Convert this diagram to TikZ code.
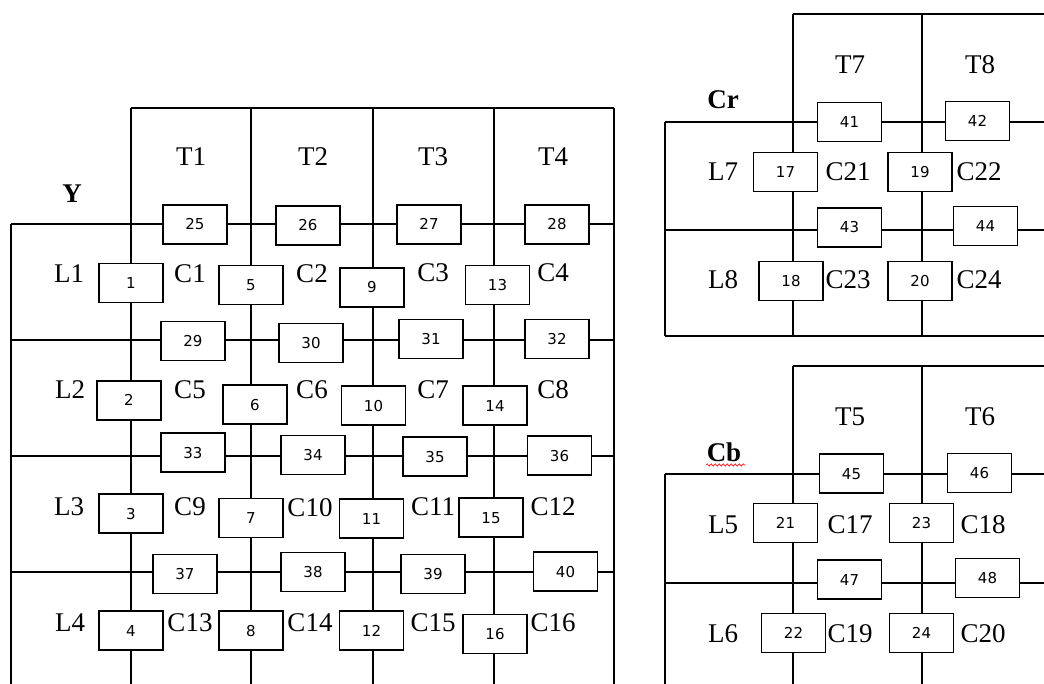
\documentclass[tikz,border=0pt]{standalone}
\usepackage{fontspec}
\setmainfont{Liberation Serif}
\newfontfamily\numfont{DejaVu Sans}
\usetikzlibrary{decorations.pathmorphing}
\begin{document}
\begin{tikzpicture}[x=1pt,y=-1pt,line width=1.2pt,
  bx/.style={draw,fill=white,minimum width=64pt,minimum height=39pt,inner sep=0pt,
    font=\numfont\fontsize{15}{15}\selectfont,text height=11pt,text depth=0pt},
  lab/.style={inner sep=0pt,font=\fontsize{27}{27}\selectfont,text height=18pt,text depth=0pt},
  blab/.style={lab,font=\bfseries\fontsize{27}{27}\selectfont}]
\useasboundingbox (0,0) rectangle (1044,684);
% ---------- Y grid ----------
\draw (131,108) -- (614,108);
\foreach \yy in {224,340,456,572} \draw (11,\yy) -- (614,\yy);
\draw (11,224) -- (11,684);
\foreach \xx in {131,251,373,494,614} \draw (\xx,108) -- (\xx,684);
% ---------- Cr grid ----------
\draw (793,14) -- (1044,14);
\foreach \yy in {122,230,336} \draw (665,\yy) -- (1044,\yy);
\draw (665,122) -- (665,336);
\foreach \xx in {793,922} \draw (\xx,14) -- (\xx,336);
% ---------- Cb grid ----------
\draw (793,366) -- (1044,366);
\foreach \yy in {474,583} \draw (665,\yy) -- (1044,\yy);
\draw (665,474) -- (665,684);
\foreach \xx in {793,922} \draw (\xx,366) -- (\xx,684);
% ---------- Y boxes ----------
\node[bx] (b25) at (195,224.5) {25};
\node[bx] (b26) at (308,225.5) {26};
\node[bx] (b27) at (429,224.5) {27};
\node[bx] (b28) at (557,224.5) {28};
\node[bx] (b1) at (131,283) {1};
\node[bx] (b5) at (251,285) {5};
\node[bx] (b9) at (372,287.5) {9};
\node[bx] (b13) at (497.5,285) {13};
\node[bx] (b29) at (193,341) {29};
\node[bx] (b30) at (311,343) {30};
\node[bx] (b31) at (431,339) {31};
\node[bx] (b32) at (557,339) {32};
\node[bx] (b2) at (129,400.5) {2};
\node[bx] (b6) at (255,404.5) {6};
\node[bx] (b10) at (373.5,405.5) {10};
\node[bx] (b14) at (495,405.5) {14};
\node[bx] (b33) at (193,452.5) {33};
\node[bx] (b34) at (313,455) {34};
\node[bx] (b35) at (435,456.5) {35};
\node[bx] (b36) at (559.5,455.5) {36};
\node[bx] (b3) at (131,513.5) {3};
\node[bx] (b7) at (251,518) {7};
\node[bx] (b11) at (371.5,518.5) {11};
\node[bx] (b15) at (491,517.5) {15};
\node[bx] (b37) at (185,574) {37};
\node[bx] (b38) at (313,572) {38};
\node[bx] (b39) at (433,574) {39};
\node[bx] (b40) at (565.5,571.5) {40};
\node[bx] (b4) at (131,630.5) {4};
\node[bx] (b8) at (251,630.5) {8};
\node[bx] (b12) at (371.5,630.5) {12};
\node[bx] (b16) at (495,634) {16};
% ---------- Cr boxes ----------
\node[bx] (b41) at (849.5,122) {41};
\node[bx] (b42) at (977.5,121) {42};
\node[bx] (b17) at (785.5,172) {17};
\node[bx] (b19) at (920,172) {19};
\node[bx] (b43) at (849.5,227.5) {43};
\node[bx] (b44) at (985.5,226) {44};
\node[bx] (b18) at (791,281) {18};
\node[bx] (b20) at (920,281) {20};
% ---------- Cb boxes ----------
\node[bx] (b45) at (851.5,473.5) {45};
\node[bx] (b46) at (979.5,473) {46};
\node[bx] (b21) at (785.5,523) {21};
\node[bx] (b23) at (921.5,523) {23};
\node[bx] (b47) at (849.5,579.5) {47};
\node[bx] (b48) at (987.5,578) {48};
\node[bx] (b22) at (793.5,633) {22};
\node[bx] (b24) at (921.5,633) {24};
% ---------- Y labels ----------
\node[blab] (lY) at (72,194) {Y};
\node[lab] (lT1) at (191,157) {T1};
\node[lab] (lT2) at (313,157) {T2};
\node[lab] (lT3) at (433,157) {T3};
\node[lab] (lT4) at (553,157) {T4};
\node[lab] (lL1) at (69,274) {L1};
\node[lab] (lL2) at (70,390) {L2};
\node[lab] (lL3) at (69,506) {L3};
\node[lab] (lL4) at (70,622) {L4};
\node[lab] (lC1) at (190,274) {C1};
\node[lab] (lC2) at (312,274) {C2};
\node[lab] (lC3) at (433,273) {C3};
\node[lab] (lC4) at (553,273) {C4};
\node[lab] (lC5) at (190,390) {C5};
\node[lab] (lC6) at (312,390) {C6};
\node[lab] (lC7) at (433,390) {C7};
\node[lab] (lC8) at (553,390) {C8};
\node[lab] (lC9) at (190,506) {C9};
\node[lab] (lC10) at (310,507) {C10};
\node[lab] (lC11) at (433,506) {C11};
\node[lab] (lC12) at (553,506) {C12};
\node[lab] (lC13) at (190,622) {C13};
\node[lab] (lC14) at (310,622) {C14};
\node[lab] (lC15) at (433,622) {C15};
\node[lab] (lC16) at (553,622) {C16};
% ---------- Cr labels ----------
\node[blab] (lCr) at (723,100) {Cr};
\node[lab] (lT7) at (850,65) {T7};
\node[lab] (lT8) at (980,65) {T8};
\node[lab] (lL7) at (723,172) {L7};
\node[lab] (lL8) at (723,280) {L8};
\node[lab] (lC21) at (848,172) {C21};
\node[lab] (lC22) at (979,172) {C22};
\node[lab] (lC23) at (848,280) {C23};
\node[lab] (lC24) at (979,280) {C24};
% ---------- Cb labels ----------
\node[blab] (lCb) at (724,452) {Cb};
\draw[red,line width=0.6pt,decorate,decoration={snake,amplitude=1.2pt,segment length=4pt}] (706,465) -- (745,465);
\node[lab] (lT5) at (850,416) {T5};
\node[lab] (lT6) at (980,416) {T6};
\node[lab] (lL5) at (723,524) {L5};
\node[lab] (lL6) at (723,633) {L6};
\node[lab] (lC17) at (850,524) {C17};
\node[lab] (lC18) at (983,524) {C18};
\node[lab] (lC19) at (850,633) {C19};
\node[lab] (lC20) at (983,633) {C20};
\end{tikzpicture}
\end{document}
